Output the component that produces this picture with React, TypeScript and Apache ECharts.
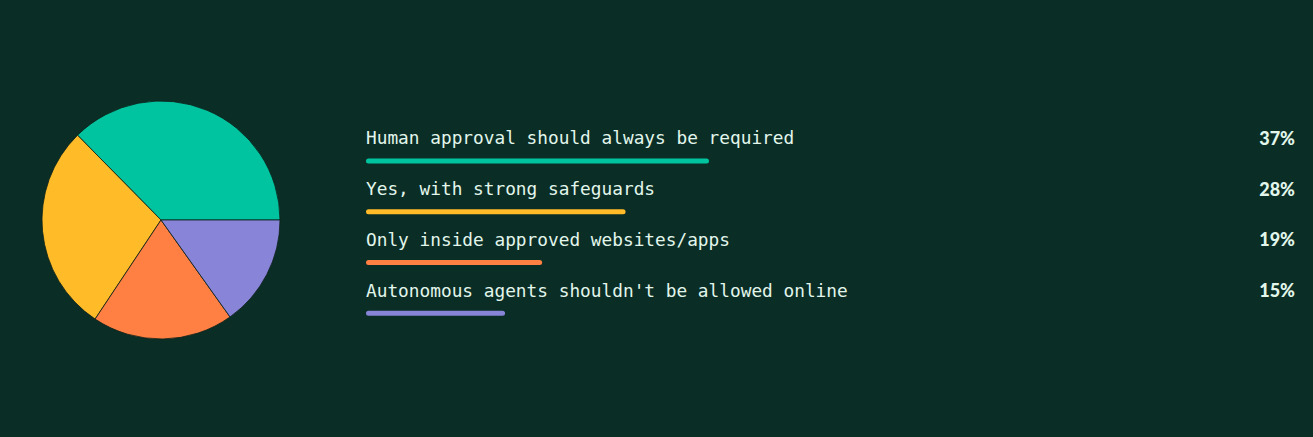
import { useEffect, useRef } from 'react'
import * as echarts from 'echarts'

const answers = [
  'Human approval should always be required',
  'Yes, with strong safeguards',
  'Only inside approved websites/apps',
  "Autonomous agents shouldn't be allowed online"
]
const shares = [37, 28, 19, 15]
const colors = ['#00c49f', '#ffbb28', '#ff8042', '#8884d8']

const BG = '#0a2e25'
const TEXT = '#e2f6ec'

export default function App() {
  const chartRef = useRef<HTMLDivElement>(null)

  useEffect(() => {
    document.body.style.margin = '0'
    if (!chartRef.current) return
    const chart = echarts.init(chartRef.current, undefined, { renderer: 'svg' })

    const option: echarts.EChartsOption = {
      animation: false,
      backgroundColor: BG,
      grid: { left: 366, right: 20, top: 135.6, bottom: 98.4 },
      xAxis: { type: 'value', min: 0, max: 100, show: false },
      yAxis: { type: 'category', data: answers, inverse: true, show: false },
      series: [
        {
          type: 'pie',
          center: [161, 220],
          radius: 119,
          startAngle: 0,
          clockwise: false,
          label: { show: false },
          labelLine: { show: false },
          itemStyle: { borderColor: '#0b1f19', borderWidth: 0.8 },
          data: answers.map((name, i) => ({
            name,
            value: shares[i],
            itemStyle: { color: colors[i] }
          }))
        },
        {
          // invisible full-width track, only carries the percentage on the right
          type: 'bar',
          barWidth: 5,
          barGap: '-100%',
          silent: true,
          data: shares.map(() => 100),
          itemStyle: { color: 'rgba(0,0,0,0)' },
          label: {
            show: true,
            position: ['100%', -20.5],
            offset: [2, 0],
            align: 'right',
            verticalAlign: 'middle',
            color: TEXT,
            fontFamily: 'Lato',
            fontWeight: 900,
            fontSize: 18,
            formatter: (p: any) => shares[p.dataIndex] + '%'
          }
        },
        {
          type: 'bar',
          barWidth: 5,
          barGap: '-100%',
          data: shares.map((v, i) => ({
            value: v,
            itemStyle: { color: colors[i], borderRadius: 3 }
          })),
          label: {
            show: true,
            position: [0, -20.5],
            align: 'left',
            verticalAlign: 'middle',
            color: TEXT,
            fontFamily: 'DejaVu Sans Mono',
            fontSize: 17.8,
            formatter: (p: any) => answers[p.dataIndex]
          }
        }
      ]
    }

    chart.setOption(option)

    return () => {
      chart.dispose()
    }
  }, [])

  return (
    <div
      ref={chartRef}
      style={{ position: 'absolute', left: 0, top: 0, width: 1313, height: 437 }}
    />
  )
}
